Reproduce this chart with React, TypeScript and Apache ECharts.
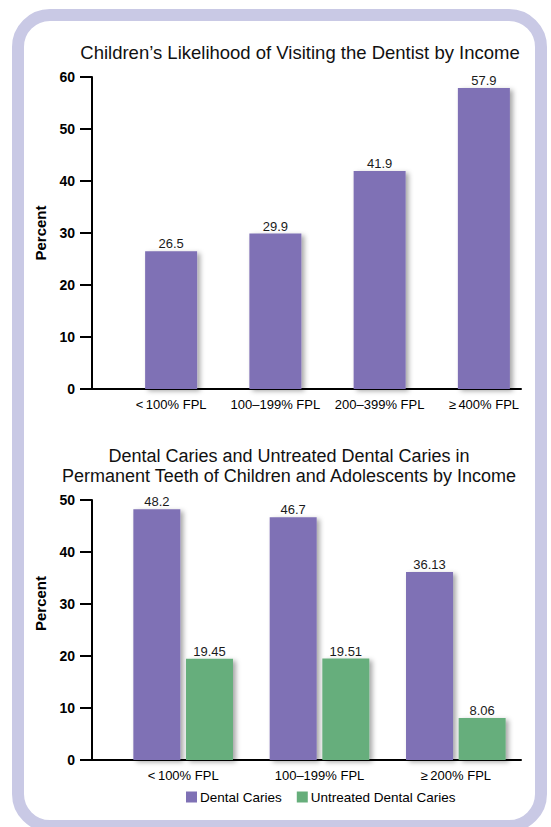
import React, { useEffect, useRef } from "react";
import * as echarts from "echarts";

const chart1Title = "Children\u2019s Likelihood of Visiting the Dentist by Income";
const chart1Categories = ["<\u2009100% FPL", "100\u2013199% FPL", "200\u2013399% FPL", "\u2265\u2009400% FPL"];
const chart1Values = [26.5, 29.9, 41.9, 57.9];

const chart2Title = "Dental Caries and Untreated Dental Caries in\nPermanent Teeth of Children and Adolescents by Income";
const chart2Categories = ["<\u2009100% FPL", "100\u2013199% FPL", "\u2265\u2009200% FPL"];
const cariesValues = [48.2, 46.7, 36.13];
const untreatedValues = [19.45, 19.51, 8.06];
const seriesNames = ["Dental Caries", "Untreated Dental Caries"];

const PURPLE = "#7f71b5";
const GREEN = "#66ae7b";
const FRAME = "#c9c9e5";
const FONT = "Liberation Sans, Arial, Helvetica, sans-serif";

export default function App() {
  const ref = useRef<HTMLDivElement>(null);
  useEffect(() => {
    if (!ref.current) return;
    const chart = echarts.init(ref.current, null, { renderer: "svg" });
    const shadow = {
      shadowBlur: 5,
      shadowOffsetX: 3,
      shadowOffsetY: 2,
      shadowColor: "rgba(0,0,0,0.35)",
    };
    const valueLabel = {
      show: true,
      position: "top",
      distance: 1,
      color: "#1a1a1a",
      fontSize: 13,
      fontFamily: FONT,
    };
    const visibleY = (min: number, max: number, name: string, pad: number[]) => ({
      type: "value",
      min,
      max,
      interval: 10,
      splitLine: { show: false },
      axisLine: { show: true, lineStyle: { color: "#000", width: 2 } },
      axisTick: { show: true, length: 12, lineStyle: { color: "#000", width: 2 } },
      axisLabel: { color: "#000", fontWeight: "bold", fontSize: 14, fontFamily: FONT, margin: 17 },
      name,
      nameLocation: "middle",
      nameGap: 44,
      nameTextStyle: { color: "#000", fontWeight: "bold", fontSize: 15, fontFamily: FONT, padding: pad },
    });
    const hiddenY = (min: number, max: number) => ({
      type: "value",
      min,
      max,
      interval: 10,
      show: false,
      splitLine: { show: false },
    });
    const lineX = (gridIndex: number) => ({
      type: "category",
      gridIndex,
      data: [""],
      axisLine: { show: true, lineStyle: { color: "#000", width: 2 } },
      axisTick: { show: false },
      axisLabel: { show: false },
    });
    const labelX = (gridIndex: number, data: string[]) => ({
      type: "category",
      gridIndex,
      data,
      axisLine: { show: false },
      axisTick: { show: false },
      axisLabel: { color: "#000", fontSize: 13, fontFamily: FONT, margin: 9, interval: 0 },
    });

    chart.setOption({
      animation: false,
      backgroundColor: "transparent",
      title: [
        {
          text: chart1Title,
          left: 295,
          top: 38,
          textAlign: "center",
          textStyle: { color: "#111", fontSize: 18.5, fontWeight: "normal", fontFamily: FONT },
        },
        {
          text: chart2Title,
          left: 284,
          top: 441,
          textAlign: "center",
          textStyle: { color: "#111", fontSize: 18, fontWeight: "normal", fontFamily: FONT, lineHeight: 20 },
        },
      ],
      legend: {
        data: seriesNames,
        top: 785,
        left: 181,
        itemWidth: 11,
        itemHeight: 11,
        itemGap: 15,
        icon: "rect",
        textStyle: { color: "#000", fontSize: 13.5, fontFamily: FONT, padding: [0, 0, 0, -2] },
      },
      graphic: [
        {
          type: "rect",
          z: -10,
          silent: true,
          shape: { x: 18, y: 15, width: 523, height: 811, r: 32 },
          style: { fill: "#fff", stroke: FRAME, lineWidth: 12 },
        },
      ],
      grid: [
        { left: 92, right: 30, top: 77, bottom: 438 },
        { left: 119, right: 15, top: 77, bottom: 438 },
        { left: 92, right: 30, top: 500, bottom: 67 },
        { left: 115, right: 27, top: 500, bottom: 67 },
      ],
      xAxis: [
        lineX(0),
        labelX(1, chart1Categories),
        lineX(2),
        labelX(3, chart2Categories),
      ],
      yAxis: [
        { ...visibleY(0, 60, "Percent", [0, 0, 0, 0]), gridIndex: 0 },
        { ...hiddenY(0, 60), gridIndex: 1 },
        { ...visibleY(0, 50, "Percent", [0, 0, 0, 53]), gridIndex: 2 },
        { ...hiddenY(0, 50), gridIndex: 3 },
      ],
      series: [
        {
          type: "bar",
          xAxisIndex: 1,
          yAxisIndex: 1,
          data: chart1Values,
          barWidth: 52,
          itemStyle: { color: PURPLE, ...shadow },
          label: valueLabel,
        },
        {
          type: "bar",
          name: seriesNames[0],
          xAxisIndex: 3,
          yAxisIndex: 3,
          data: cariesValues,
          barWidth: 47,
          barGap: "12%",
          itemStyle: { color: PURPLE, ...shadow },
          label: valueLabel,
        },
        {
          type: "bar",
          name: seriesNames[1],
          xAxisIndex: 3,
          yAxisIndex: 3,
          data: untreatedValues,
          barWidth: 47,
          barGap: "12%",
          itemStyle: { color: GREEN, ...shadow },
          label: valueLabel,
        },
      ],
    });
    return () => chart.dispose();
  }, []);
  return (
    <div style={{ position: "fixed", left: 0, top: 0, width: 551, height: 827, background: "#fff" }}>
      <div ref={ref} style={{ width: 551, height: 827 }} />
    </div>
  );
}
